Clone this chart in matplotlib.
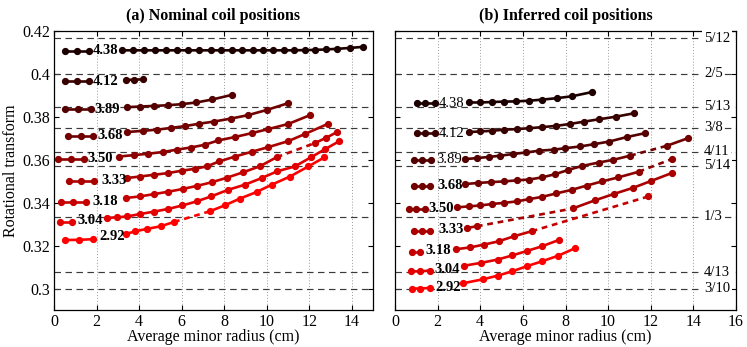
import matplotlib
matplotlib.use('Agg')
import matplotlib.pyplot as plt

plt.rcParams['font.family'] = ['Liberation Serif', 'DejaVu Serif']

# ---------------- rational surfaces ----------------
rat_vals = [5/12, 2/5, 5/13, 3/8, 4/11, 5/14, 1/3, 4/13, 3/10]
rat_labels = ['5/12', '2/5', '5/13', '3/8', '4/11', '5/14', '1/3', '4/13', '3/10']

series_names = ['4.38', '4.12', '3.89', '3.68', '3.50', '3.33', '3.18', '3.04', '2.92']

# ---------------- (a) nominal coil positions ----------------
a438_hx = [0.51, 1.09, 1.65]
a438_hy = [0.4107, 0.4107, 0.4107]
a438_x = [3.21, 3.72, 4.24, 4.74, 5.25, 5.77, 6.28, 6.80, 7.36, 7.86, 8.36, 8.85, 9.34,
          9.83, 10.32, 10.80, 11.29, 11.78, 12.27, 12.78, 13.33, 13.90, 14.52]
a438_y = [0.4110, 0.4110, 0.4110, 0.4110, 0.4110, 0.4110, 0.4110, 0.4110, 0.4110, 0.4110,
          0.4110, 0.4110, 0.4110, 0.4110, 0.4110, 0.4110, 0.4110, 0.4111, 0.4112, 0.4114,
          0.4117, 0.4121, 0.4126]
a438_brk = []

a412_hx = [0.51, 1.09, 1.65]
a412_hy = [0.3967, 0.3967, 0.3967]
a412_x = [3.38, 3.77, 4.19]
a412_y = [0.3972, 0.3973, 0.3975]
a412_brk = []

a389_hx = [0.54, 1.13, 1.72]
a389_hy = [0.3836, 0.3836, 0.3836]
a389_x = [3.42, 4.04, 4.70, 5.34, 6.00, 6.70, 7.45, 8.35]
a389_y = [0.3845, 0.3848, 0.3851, 0.3854, 0.3859, 0.3867, 0.3881, 0.3902]
a389_brk = []

a368_hx = [0.66, 1.25, 1.84]
a368_hy = [0.3713, 0.3713, 0.3713]
a368_x = [3.41, 4.19, 4.82, 5.48, 6.16, 6.83, 7.52, 8.32, 9.13, 10.00, 11.02]
a368_y = [0.3729, 0.3735, 0.3740, 0.3748, 0.3757, 0.3768, 0.3778, 0.3792, 0.3808, 0.3832, 0.3864]
a368_brk = []

a350_hx = [0.19, 0.82, 1.42]
a350_hy = [0.3603, 0.3603, 0.3603]
a350_x = [3.06, 3.77, 4.43, 5.11, 5.77, 6.42, 7.10, 7.72, 8.51, 9.29, 10.08, 11.02, 12.04]
a350_y = [0.3615, 0.3622, 0.3628, 0.3636, 0.3647, 0.3657, 0.3670, 0.3690, 0.3706, 0.3724,
          0.3743, 0.3767, 0.3808]
a350_brk = []

a333_hx = [0.70, 1.29, 1.87]
a333_hy = [0.3499, 0.3499, 0.3499]
a333_x = [3.44, 4.04, 4.70, 5.37, 6.00, 6.63, 7.18, 7.76, 8.51, 9.29, 10.08, 11.02, 11.80, 12.87]
a333_y = [0.3515, 0.3522, 0.3530, 0.3538, 0.3549, 0.3558, 0.3569, 0.3592, 0.3615, 0.3637,
          0.3659, 0.3687, 0.3720, 0.3767]
a333_brk = []

a318_hx = [0.35, 0.90, 1.50]
a318_hy = [0.3402, 0.3402, 0.3402]
a318_x = [3.38, 4.04, 4.70, 5.37, 6.05, 6.71, 7.41, 8.12, 8.90, 9.69, 10.47, 12.27, 12.79, 13.29]
a318_y = [0.3422, 0.3429, 0.3440, 0.3451, 0.3464, 0.3478, 0.3495, 0.3516, 0.3542, 0.3570,
          0.3612, 0.3678, 0.3702, 0.3728]
a318_brk = [10]

a304_hx = [0.27, 0.85]
a304_hy = [0.3310, 0.3310]
a304_x = [2.49, 2.97, 3.45, 4.04, 4.68, 5.37, 6.03, 6.71, 7.38, 8.19, 8.98, 9.77, 10.49, 11.33,
          12.09, 12.74, 13.42]
a304_y = [0.3329, 0.3332, 0.3336, 0.3347, 0.3358, 0.3371, 0.3387, 0.3406, 0.3429, 0.3460,
          0.3484, 0.3515, 0.3546, 0.3569, 0.3612, 0.3649, 0.3687]
a304_brk = []

a292_hx = [0.51, 1.18, 1.84]
a292_hy = [0.3226, 0.3227, 0.3230]
a292_x = [3.38, 3.83, 4.38, 5.01, 5.64, 7.33, 8.04, 8.74, 9.53, 10.24, 11.10, 11.96, 12.71]
a292_y = [0.3254, 0.3267, 0.3278, 0.3290, 0.3310, 0.3360, 0.3388, 0.3419, 0.3450, 0.3484,
          0.3522, 0.3569, 0.3611]
a292_brk = [4]

a_lab_x = [2.41, 2.41, 2.51, 2.65, 2.18, 2.81, 2.39, 1.68, 2.72]
a_lab_y = [0.4108, 0.3967, 0.3835, 0.3715, 0.3607, 0.3502, 0.3406, 0.3315, 0.3242]

# ---------------- (b) inferred coil positions ----------------
b438_hx = [1.04, 1.43, 1.90]
b438_hy = [0.3864, 0.3864, 0.3864]
b438_x = [3.46, 4.01, 4.54, 5.10, 5.68, 6.27, 6.88, 7.60, 8.31, 9.22]
b438_y = [0.3867, 0.3867, 0.3869, 0.3871, 0.3872, 0.3875, 0.3880, 0.3887, 0.3896, 0.3915]
b438_brk = []

b412_hx = [1.04, 1.43, 1.90]
b412_hy = [0.3724, 0.3724, 0.3724]
b412_x = [3.46, 4.01, 4.55, 5.10, 5.72, 6.30, 6.90, 7.56, 8.22, 8.89, 9.59, 10.38, 11.23]
b412_y = [0.3729, 0.3732, 0.3735, 0.3740, 0.3743, 0.3747, 0.3752, 0.3758, 0.3767, 0.3778,
          0.3789, 0.3801, 0.3817]
b412_brk = []

b389_hx = [0.88, 1.27, 1.71]
b389_hy = [0.3597, 0.3597, 0.3597]
b389_x = [3.30, 3.85, 4.39, 4.94, 5.56, 6.15, 6.74, 7.44, 7.99, 8.69, 9.36, 10.06, 10.88, 11.73]
b389_y = [0.3603, 0.3608, 0.3613, 0.3619, 0.3627, 0.3634, 0.3642, 0.3647, 0.3654, 0.3662,
          0.3673, 0.3685, 0.3706, 0.3724]
b389_brk = []

b368_hx = [0.88, 1.27, 1.66]
b368_hy = [0.3476, 0.3476, 0.3476]
b368_x = [3.30, 3.90, 4.52, 5.10, 5.72, 6.30, 6.90, 7.52, 8.14, 8.77, 9.55, 10.25, 11.03,
          12.75, 13.76]
b368_y = [0.3487, 0.3492, 0.3496, 0.3499, 0.3504, 0.3508, 0.3518, 0.3533, 0.3553, 0.3571,
          0.3587, 0.3600, 0.3619, 0.3665, 0.3701]
b368_brk = [12]

b350_hx = [0.65, 0.99, 1.43]
b350_hy = [0.3371, 0.3371, 0.3371]
b350_x = [2.91, 3.46, 4.01, 4.55, 5.10, 5.72, 6.30, 6.90, 7.56, 8.30, 9.00, 9.71, 10.48,
          11.43, 12.98]
b350_y = [0.3378, 0.3383, 0.3387, 0.3394, 0.3399, 0.3406, 0.3417, 0.3427, 0.3443, 0.3460,
          0.3480, 0.3499, 0.3518, 0.3544, 0.3603]
b350_brk = [13]

b333_hx = [0.88, 1.27, 1.66]
b333_hy = [0.3267, 0.3267, 0.3267]
b333_x = [3.36, 3.84, 8.34, 9.38, 10.28, 11.19, 12.01, 12.98]
b333_y = [0.3282, 0.3290, 0.3373, 0.3411, 0.3441, 0.3470, 0.3501, 0.3538]
b333_brk = [1]

b318_hx = [0.81, 1.19]
b318_hy = [0.3171, 0.3171]
b318_x = [2.86, 3.54, 4.19, 4.86, 5.60, 6.41, 11.89]
b318_y = [0.3183, 0.3192, 0.3205, 0.3220, 0.3244, 0.3267, 0.3429]
b318_brk = [5]

b304_hx = [0.73, 1.19, 1.66]
b304_hy = [0.3080, 0.3080, 0.3084]
b304_x = [3.23, 4.05, 4.82, 5.49, 6.19, 6.90, 7.71]
b304_y = [0.3106, 0.3120, 0.3135, 0.3154, 0.3175, 0.3197, 0.3227]
b304_brk = []

b292_hx = [0.81, 1.19, 1.66]
b292_hy = [0.3000, 0.3000, 0.3003]
b292_x = [3.21, 4.12, 4.82, 5.49, 6.19, 6.90, 7.66, 8.43]
b292_y = [0.3025, 0.3043, 0.3060, 0.3080, 0.3104, 0.3127, 0.3153, 0.3187]
b292_brk = []

b_lab_x = [2.67, 2.67, 2.53, 2.58, 2.15, 2.62, 2.01, 2.44, 2.48]
b_lab_y = [0.3864, 0.3724, 0.3599, 0.3480, 0.3373, 0.3275, 0.3175, 0.3088, 0.3004]
b_lab_bold = [False, False, False, True, True, True, True, True, True]

a_series = [
    (a438_hx, a438_hy, a438_x, a438_y, a438_brk),
    (a412_hx, a412_hy, a412_x, a412_y, a412_brk),
    (a389_hx, a389_hy, a389_x, a389_y, a389_brk),
    (a368_hx, a368_hy, a368_x, a368_y, a368_brk),
    (a350_hx, a350_hy, a350_x, a350_y, a350_brk),
    (a333_hx, a333_hy, a333_x, a333_y, a333_brk),
    (a318_hx, a318_hy, a318_x, a318_y, a318_brk),
    (a304_hx, a304_hy, a304_x, a304_y, a304_brk),
    (a292_hx, a292_hy, a292_x, a292_y, a292_brk),
]
b_series = [
    (b438_hx, b438_hy, b438_x, b438_y, b438_brk),
    (b412_hx, b412_hy, b412_x, b412_y, b412_brk),
    (b389_hx, b389_hy, b389_x, b389_y, b389_brk),
    (b368_hx, b368_hy, b368_x, b368_y, b368_brk),
    (b350_hx, b350_hy, b350_x, b350_y, b350_brk),
    (b333_hx, b333_hy, b333_x, b333_y, b333_brk),
    (b318_hx, b318_hy, b318_x, b318_y, b318_brk),
    (b304_hx, b304_hy, b304_x, b304_y, b304_brk),
    (b292_hx, b292_hy, b292_x, b292_y, b292_brk),
]

colors = [((k + 1) / 9.0, 0.0, 0.0) for k in range(9)]

LW = 1.9
MS = 4.2


def draw_series(ax, hx, hy, x, y, brk, c):
    ax.plot(hx, hy, '-o', color=c, lw=LW, ms=MS, zorder=5)
    start = 0
    ends = list(brk) + [len(x) - 1]
    for b in ends:
        ax.plot(x[start:b + 1], y[start:b + 1], '-o', color=c, lw=LW, ms=MS, zorder=5)
        if b < len(x) - 1:
            ax.plot(x[b:b + 2], y[b:b + 2], color=c, lw=LW, ls=(0, (2.2, 1.8)), zorder=5)
        start = b + 1


def style_axes(ax, xmax):
    ax.set_xlim(0, xmax)
    ax.set_ylim(0.29, 0.42)
    ax.set_xticks(list(range(0, xmax + 1, 2)))
    ax.set_yticks([0.30, 0.32, 0.34, 0.36, 0.38, 0.40, 0.42])
    ax.tick_params(direction='in', top=True, right=True, length=3.5, width=0.8,
                   labelsize=11.5, pad=3)
    for sp in ax.spines.values():
        sp.set_linewidth(0.9)
    for xv in range(2, xmax, 2):
        ax.axvline(xv, color='#9a9a9a', lw=0.7, ls=(0, (1, 2)), zorder=1)
    for v in rat_vals:
        ax.axhline(v, color='#3a3a3a', lw=0.85, ls=(0, (5.5, 3.8)), zorder=2)
    ax.set_xlabel('Average minor radius (cm)', fontsize=11.5)
    ax.xaxis.set_label_coords(0.5, -0.097)
    ax.xaxis.label.set_va('center')


fig = plt.figure(figsize=(7.47, 3.47), dpi=100)
axA = fig.add_axes([54 / 747, 37 / 347, 319 / 747, 279 / 347])
axB = fig.add_axes([395 / 747, 37 / 347, 341 / 747, 279 / 347])

style_axes(axA, 15)
style_axes(axB, 16)

axA.set_yticklabels(['0.3', '0.32', '0.34', '0.36', '0.38', '0.4', '0.42'])
axB.set_yticklabels([])
axA.set_ylabel('Rotational transform', fontsize=11.5)
axA.yaxis.set_label_coords(-0.136, 0.5)
axA.yaxis.label.set_va('center')

axA.set_title('(a) Nominal coil positions', fontsize=11.5, fontweight='bold', pad=8)
axB.set_title('(b) Inferred coil positions', fontsize=11.5, fontweight='bold', pad=8)

for k, (hx, hy, x, y, brk) in enumerate(a_series):
    draw_series(axA, hx, hy, x, y, brk, colors[k])
    axA.text(a_lab_x[k], a_lab_y[k], series_names[k], ha='center', va='center',
             fontsize=10.5, fontweight='bold', zorder=6)

for k, (hx, hy, x, y, brk) in enumerate(b_series):
    draw_series(axB, hx, hy, x, y, brk, colors[k])
    axB.text(b_lab_x[k], b_lab_y[k], series_names[k], ha='center', va='center',
             fontsize=10.5, fontweight='bold' if b_lab_bold[k] else 'normal', zorder=6)

for v, s in zip(rat_vals, rat_labels):
    axB.text(14.5, v, s, ha='left', va='center', fontsize=10.5, zorder=4,
             bbox=dict(facecolor='white', edgecolor='none', pad=1.2))

fig.savefig('out.png', dpi=100)
